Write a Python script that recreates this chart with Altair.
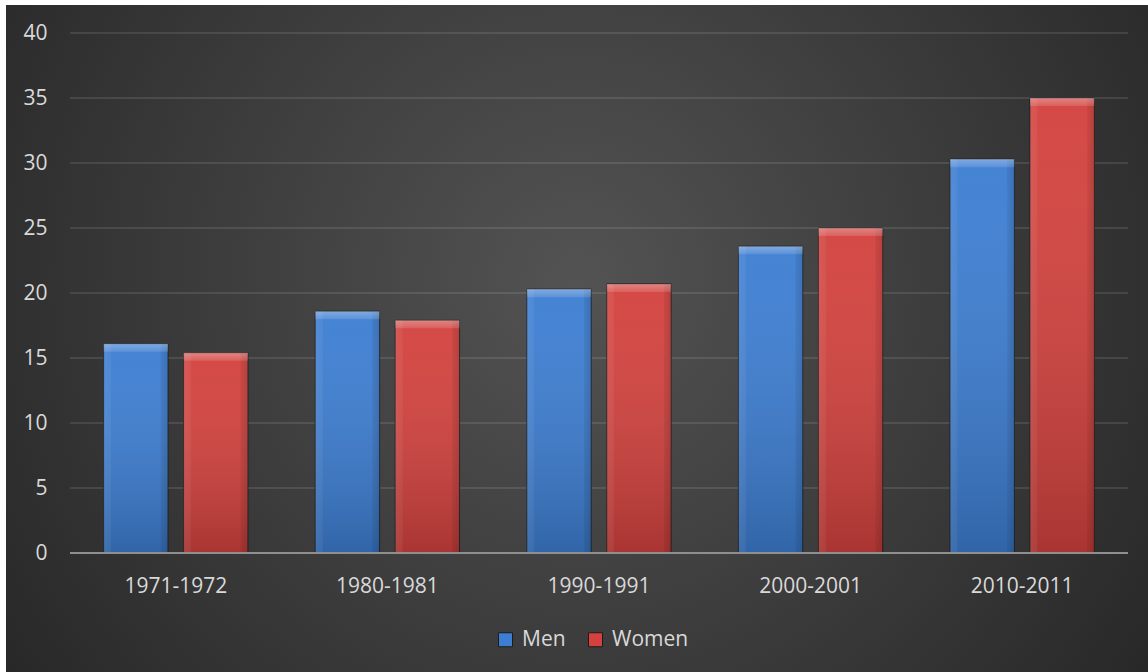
import altair as alt
import pandas as pd

# Average values by academic year, split by sex
periods = ["1971-1972", "1980-1981", "1990-1991", "2000-2001", "2010-2011"]
men = [16.1, 18.6, 20.3, 23.6, 30.3]
women = [15.4, 17.9, 20.7, 25.0, 35.0]
series = ["Men", "Women"]
series_colors = ["#3d7ed2", "#d3423e"]
y_ticks = [0, 5, 10, 15, 20, 25, 30, 35, 40]

W, H = 1058, 520
FONT = "Open Sans"
TEXT = "#d9d9d9"

rows = []
for p, m, w in zip(periods, men, women):
    rows.append({"period": p, "series": "Men", "value": m})
    rows.append({"period": p, "series": "Women", "value": w})
bars_df = pd.DataFrame(rows)
grid_df = pd.DataFrame({"value": [t for t in y_ticks if t > 0]})
one_df = pd.DataFrame({"k": [0]})

x_enc = alt.X(
    "period:N",
    sort=periods,
    scale=alt.Scale(paddingInner=0.318, paddingOuter=0.159),
    axis=alt.Axis(
        title=None, domain=False, ticks=False, labelAngle=0, zindex=1,
        labelFont=FONT, labelFontSize=21, labelColor=TEXT,
        labelBaseline="middle", labelPadding=33,
    ),
)
xoff_enc = alt.XOffset(
    "series:N", sort=series, scale=alt.Scale(paddingInner=0.195, paddingOuter=0)
)
y_scale = alt.Scale(domain=[0, 40], nice=False)
y_axis = alt.Axis(
    title=None, domain=False, ticks=False, grid=False, values=y_ticks,
    zindex=1,
    labelFont=FONT, labelFontSize=21, labelColor=TEXT, labelPadding=23,
)
y_enc = alt.Y("value:Q", scale=y_scale, axis=y_axis)

# Dark backdrop with a soft radial glow in the middle
backdrop = alt.Chart(one_df).mark_rect(
    fill={
        "gradient": "radial",
        "x1": 0.5, "y1": 0.45, "r1": 0,
        "x2": 0.5, "y2": 0.45, "r2": 0.72,
        "stops": [
            {"offset": 0, "color": "#535353"},
            {"offset": 1, "color": "#202020"},
        ],
    },
    clip=False,
).encode(
    x=alt.value(-64), x2=alt.value(W + 20),
    y=alt.value(-28), y2=alt.value(H + 119),
)

gridlines = alt.Chart(grid_df).mark_rule(
    color="#ffffff", strokeOpacity=0.1, strokeWidth=2
).encode(
    y=y_enc,
    x=alt.value(0), x2=alt.value(W),
)

# Solid bars carry the colour scale and the legend
bars = alt.Chart(bars_df).mark_bar(
    stroke="#1c1c1c", strokeWidth=1, strokeOpacity=0.8
).encode(
    x=x_enc,
    xOffset=xoff_enc,
    y=y_enc,
    color=alt.Color(
        "series:N",
        sort=series,
        scale=alt.Scale(domain=series, range=series_colors),
        legend=alt.Legend(
            title=None, orient="none", direction="horizontal",
            legendX=425, legendY=596,
            symbolType="square", symbolSize=196,
            symbolStrokeColor="#1c1c1c", symbolStrokeWidth=1,
            labelFont=FONT, labelFontSize=21, labelColor=TEXT,
            labelOffset=6, columnPadding=19, padding=0,
        ),
    ),
)

# Shading: darker toward the base of each bar
shade = alt.Chart(bars_df).mark_bar(
    fill={
        "gradient": "linear", "x1": 0, "y1": 0, "x2": 0, "y2": 1,
        "stops": [
            {"offset": 0, "color": "rgba(255,255,255,0.04)"},
            {"offset": 1, "color": "rgba(0,0,0,0.2)"},
        ],
    }
).encode(x=x_enc, xOffset=xoff_enc, y=y_enc)

# Side bevels
sides = alt.Chart(bars_df).mark_bar(
    fill={
        "gradient": "linear", "x1": 0, "y1": 0, "x2": 1, "y2": 0,
        "stops": [
            {"offset": 0, "color": "rgba(255,255,255,0.08)"},
            {"offset": 0.11, "color": "rgba(255,255,255,0.05)"},
            {"offset": 0.12, "color": "rgba(255,255,255,0)"},
            {"offset": 0.88, "color": "rgba(0,0,0,0)"},
            {"offset": 0.89, "color": "rgba(0,0,0,0.06)"},
            {"offset": 1, "color": "rgba(0,0,0,0.14)"},
        ],
    }
).encode(x=x_enc, xOffset=xoff_enc, y=y_enc)

# Lighter top bevel
top_bevel = alt.Chart(bars_df).transform_calculate(
    bevel_low="datum.value - 0.62"
).mark_bar(
    fill={
        "gradient": "linear", "x1": 0, "y1": 0, "x2": 0, "y2": 1,
        "stops": [
            {"offset": 0, "color": "rgba(255,255,255,0.32)"},
            {"offset": 1, "color": "rgba(255,255,255,0.12)"},
        ],
    }
).encode(
    x=x_enc, xOffset=xoff_enc, y=y_enc,
    y2=alt.Y2("bevel_low:Q"),
)

baseline = alt.Chart(one_df).mark_rule(
    color="#8f8f8f", strokeWidth=2
).encode(
    y=alt.datum(0, scale=y_scale, axis=y_axis),
    x=alt.value(0), x2=alt.value(W),
)

chart = alt.layer(
    backdrop, gridlines, bars, shade, sides, top_bevel, baseline
).properties(
    width=W,
    height=H,
    background="#ffffff",
    padding={"left": 70, "top": 33, "right": 20, "bottom": 119},
    autosize=alt.AutoSizeParams(type="none"),
).configure_view(
    stroke=None
)

chart.save("out.html", embed_options={"renderer": "svg", "actions": False})
